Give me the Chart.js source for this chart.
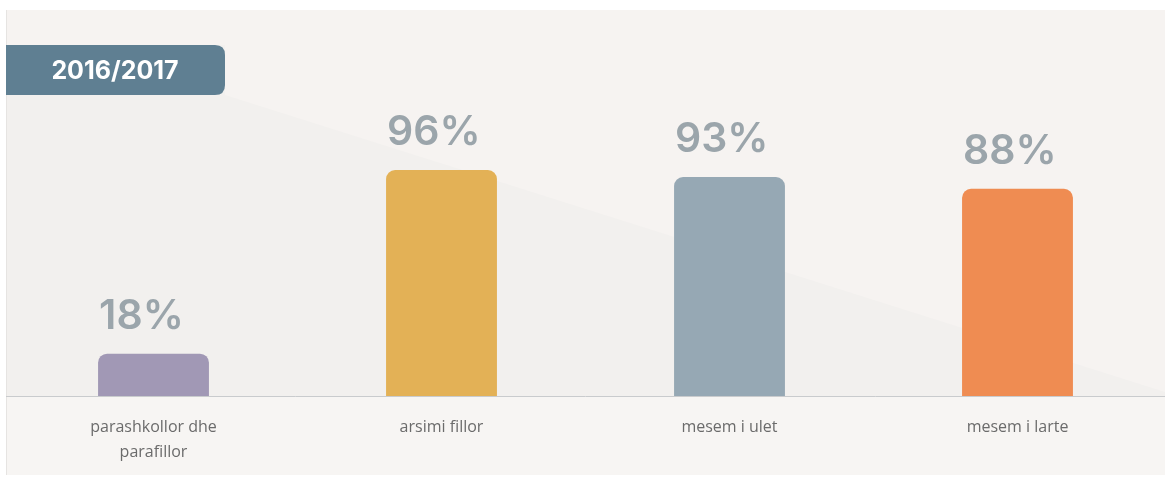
<!DOCTYPE html>
<html>
<head>
<meta charset="utf-8">
<script src="https://cdn.jsdelivr.net/npm/chart.js@4/dist/chart.umd.min.js"></script>
<style>
  html, body { margin: 0; padding: 0; background: #ffffff; }
  #wrap { width: 1170px; height: 478px; position: relative; }
</style>
</head>
<body>
<div id="wrap"><canvas id="c" width="1170" height="478"></canvas></div>
<script>
const categories = [["parashkollor dhe", "parafillor"], "arsimi fillor", "mesem i ulet", "mesem i larte"];
const values = [18, 96, 93, 88];
const valueLabels = ["18%", "96%", "93%", "88%"];
const barColors = ["#a198b5", "#e3b156", "#96a8b4", "#ef8c52"];
const periodLabel = "2016/2017";

const backgroundPlugin = {
  id: 'bg',
  beforeDraw(chart) {
    const ctx = chart.ctx;
    const base = chart.chartArea.bottom;
    ctx.save();
    ctx.fillStyle = '#f2f0ee';
    ctx.fillRect(6, 10, 1159, 465);
    ctx.fillStyle = '#f6f3f1';
    ctx.beginPath();
    ctx.moveTo(225, 10);
    ctx.lineTo(225, 95);
    ctx.lineTo(1165, 392);
    ctx.lineTo(1165, 10);
    ctx.closePath();
    ctx.fill();
    ctx.fillRect(6, 10, 219, 35);
    ctx.fillStyle = '#f7f5f3';
    ctx.fillRect(6, base, 1159, 475 - base);
    ctx.strokeStyle = '#e6e4e2';
    ctx.lineWidth = 1;
    ctx.beginPath();
    ctx.moveTo(6.5, 10);
    ctx.lineTo(6.5, 475);
    ctx.stroke();
    ctx.strokeStyle = '#c9cbcd';
    ctx.beginPath();
    ctx.moveTo(6, base + 0.5);
    ctx.lineTo(1165, base + 0.5);
    ctx.stroke();
    ctx.fillStyle = '#5f7f92';
    ctx.beginPath();
    ctx.moveTo(6, 45);
    ctx.lineTo(215, 45);
    ctx.quadraticCurveTo(225, 45, 225, 55);
    ctx.lineTo(225, 85);
    ctx.quadraticCurveTo(225, 95, 215, 95);
    ctx.lineTo(6, 95);
    ctx.closePath();
    ctx.fill();
    ctx.fillStyle = '#ffffff';
    ctx.font = '700 25px Inter, "Open Sans", sans-serif';
    ctx.textAlign = 'center';
    ctx.textBaseline = 'middle';
    ctx.fillText(periodLabel, 115, 71);
    ctx.restore();
  }
};

const valueLabelPlugin = {
  id: 'vlabels',
  afterDatasetsDraw(chart) {
    const ctx = chart.ctx;
    const meta = chart.getDatasetMeta(0);
    ctx.save();
    ctx.fillStyle = '#9ba5ab';
    ctx.font = '600 41px Inter, "Open Sans", sans-serif';
    ctx.textAlign = 'left';
    ctx.textBaseline = 'alphabetic';
    meta.data.forEach((bar, i) => {
      const left = bar.x - bar.width / 2;
      ctx.fillText(valueLabels[i], left + 1, bar.y - 25);
    });
    ctx.restore();
  }
};

new Chart(document.getElementById('c'), {
  type: 'bar',
  data: {
    labels: categories,
    datasets: [{
      data: values,
      backgroundColor: barColors,
      borderRadius: { topLeft: 9, topRight: 9, bottomLeft: 0, bottomRight: 0 },
      borderSkipped: 'bottom',
      categoryPercentage: 1,
      barPercentage: 0.385
    }]
  },
  options: {
    responsive: false,
    animation: false,
    layout: { padding: { top: 160.6, left: 9.5, right: 8.5, bottom: 0 } },
    plugins: { legend: { display: false }, tooltip: { enabled: false } },
    scales: {
      x: {
        grid: { display: false, drawTicks: false },
        border: { display: false },
        ticks: {
          color: '#6b6b6b',
          font: { family: '"Open Sans", sans-serif', size: 16, lineHeight: 1.56 },
          padding: 19,
          maxRotation: 0,
          autoSkip: false
        },
        afterFit(scale) { scale.height = 82; }
      },
      y: {
        display: false,
        min: 0,
        max: 100
      }
    }
  },
  plugins: [backgroundPlugin, valueLabelPlugin]
});
</script>
</body>
</html>
